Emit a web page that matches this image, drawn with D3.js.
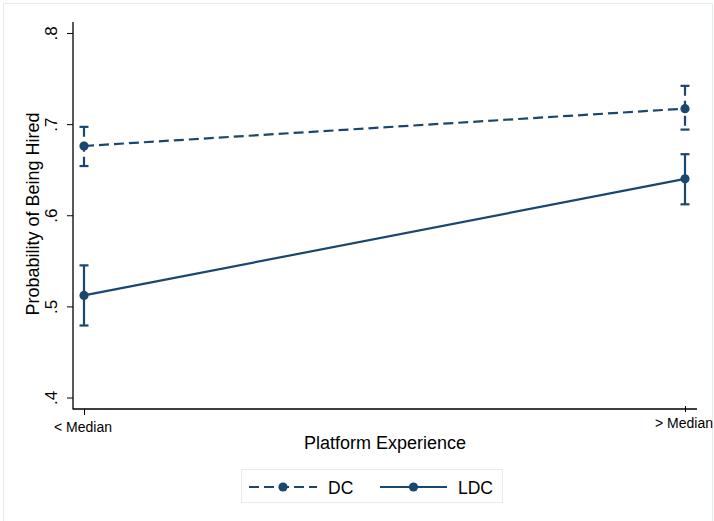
<!DOCTYPE html>
<html><head><meta charset="utf-8">
<script src="https://cdn.jsdelivr.net/npm/d3@7"></script>
<style>body{margin:0;background:#fff}svg{display:block;font-family:"Liberation Sans",Arial,sans-serif}</style>
</head><body>
<svg id="c" width="714" height="521"></svg>
<script>
const categories = ["< Median", "> Median"];
const seriesNames = ["DC", "LDC"];
const dcValues = [0.676, 0.717];
const dcLower = [0.654, 0.694];
const dcUpper = [0.697, 0.742];
const ldcValues = [0.512, 0.640];
const ldcLower = [0.479, 0.612];
const ldcUpper = [0.545, 0.667];
const yTicks = [0.4, 0.5, 0.6, 0.7, 0.8];
const yTickLabels = [".4", ".5", ".6", ".7", ".8"];

const color = "#1a476f";
const svg = d3.select("#c");

// outer frame
svg.append("rect").attr("x",3.5).attr("y",3.5).attr("width",709).attr("height",520)
  .attr("fill","#fff").attr("stroke","#e4ecee").attr("stroke-width",1);

const x = d3.scalePoint().domain(categories).range([84, 685]);
const y = d3.scaleLinear().domain([0.4, 0.8]).range([397.5, 33]);

// axes
const yAxis = d3.axisLeft(y).tickValues(yTicks).tickSize(6).tickFormat((d,i)=>yTickLabels[i]);
const gy = svg.append("g").attr("transform","translate(73,0)").call(yAxis);
gy.select(".domain").attr("d","M0,22V409.5").attr("stroke","#000").attr("stroke-width",1.3);
gy.selectAll(".tick line").attr("stroke","#000").attr("stroke-width",1);
gy.selectAll(".tick text").attr("x",0).attr("dy",0)
  .attr("transform","translate(-16,0) rotate(-90)")
  .attr("text-anchor","middle").attr("font-size",17).attr("fill","#000");

const xAxis = d3.axisBottom(x).tickSize(6).tickSizeOuter(0);
const gx = svg.append("g").attr("transform","translate(0,409)").call(xAxis);
gx.select(".domain").attr("d","M73,0H697").attr("stroke","#000").attr("stroke-width",1.3);
gx.selectAll(".tick line").attr("stroke","#000").attr("stroke-width",1)
  .attr("y1",(d,i)=> i===0 ? 0 : -3).attr("y2",(d,i)=> i===0 ? 6 : 3);
gx.selectAll(".tick text").attr("font-size",14).attr("fill","#000").attr("dy",0)
  .attr("y",(d,i)=> i===0 ? 23 : 19)
  .attr("dx",(d,i)=> i===0 ? -1.5 : -1.5);

// axis titles
svg.append("text").attr("transform","translate(39,214) rotate(-90)")
  .attr("text-anchor","middle").attr("font-size",18).attr("fill","#000")
  .text("Probability of Being Hired");
svg.append("text").attr("x",385).attr("y",449)
  .attr("text-anchor","middle").attr("font-size",18).attr("fill","#000")
  .text("Platform Experience");

const series = [
  {name: seriesNames[0], v: dcValues, lo: dcLower, hi: dcUpper, dash: "10,5"},
  {name: seriesNames[1], v: ldcValues, lo: ldcLower, hi: ldcUpper, dash: null}
];

const line = d3.line().x((d,i)=>x(categories[i])).y(d=>y(d));
series.forEach(s => {
  const g = svg.append("g");
  // error bars
  categories.forEach((c,i) => {
    g.append("line").attr("x1",x(c)).attr("x2",x(c)).attr("y1",y(s.hi[i])).attr("y2",y(s.lo[i]))
      .attr("stroke",color).attr("stroke-width",2.2).attr("stroke-dasharray",s.dash);
    [s.hi[i], s.lo[i]].forEach(v => {
      g.append("line").attr("x1",x(c)-4.5).attr("x2",x(c)+4.5).attr("y1",y(v)).attr("y2",y(v))
        .attr("stroke",color).attr("stroke-width",2.2);
    });
  });
  g.append("path").datum(s.v).attr("d",line).attr("fill","none")
    .attr("stroke",color).attr("stroke-width",2.2).attr("stroke-dasharray",s.dash);
  g.selectAll("circle").data(s.v).join("circle")
    .attr("cx",(d,i)=>x(categories[i])).attr("cy",d=>y(d)).attr("r",4.6).attr("fill",color);
});

// legend
const lg = svg.append("g");
lg.append("rect").attr("x",241.5).attr("y",469.5).attr("width",261).attr("height",33)
  .attr("fill","#fff").attr("stroke","#e4ecee").attr("stroke-width",1);
const legItems = [
  {name: seriesNames[0], x0: 249, x1: 317, tx: 328, dash: "10,5"},
  {name: seriesNames[1], x0: 380, x1: 447, tx: 458, dash: null}
];
legItems.forEach(it => {
  lg.append("line").attr("x1",it.x0).attr("x2",it.x1).attr("y1",487).attr("y2",487)
    .attr("stroke",color).attr("stroke-width",2.2).attr("stroke-dasharray",it.dash);
  lg.append("circle").attr("cx",(it.x0+it.x1)/2).attr("cy",487).attr("r",4.6).attr("fill",color);
  lg.append("text").attr("x",it.tx).attr("y",493.5).attr("font-size",17.5).attr("fill","#000").text(it.name);
});
</script>
</body></html>
